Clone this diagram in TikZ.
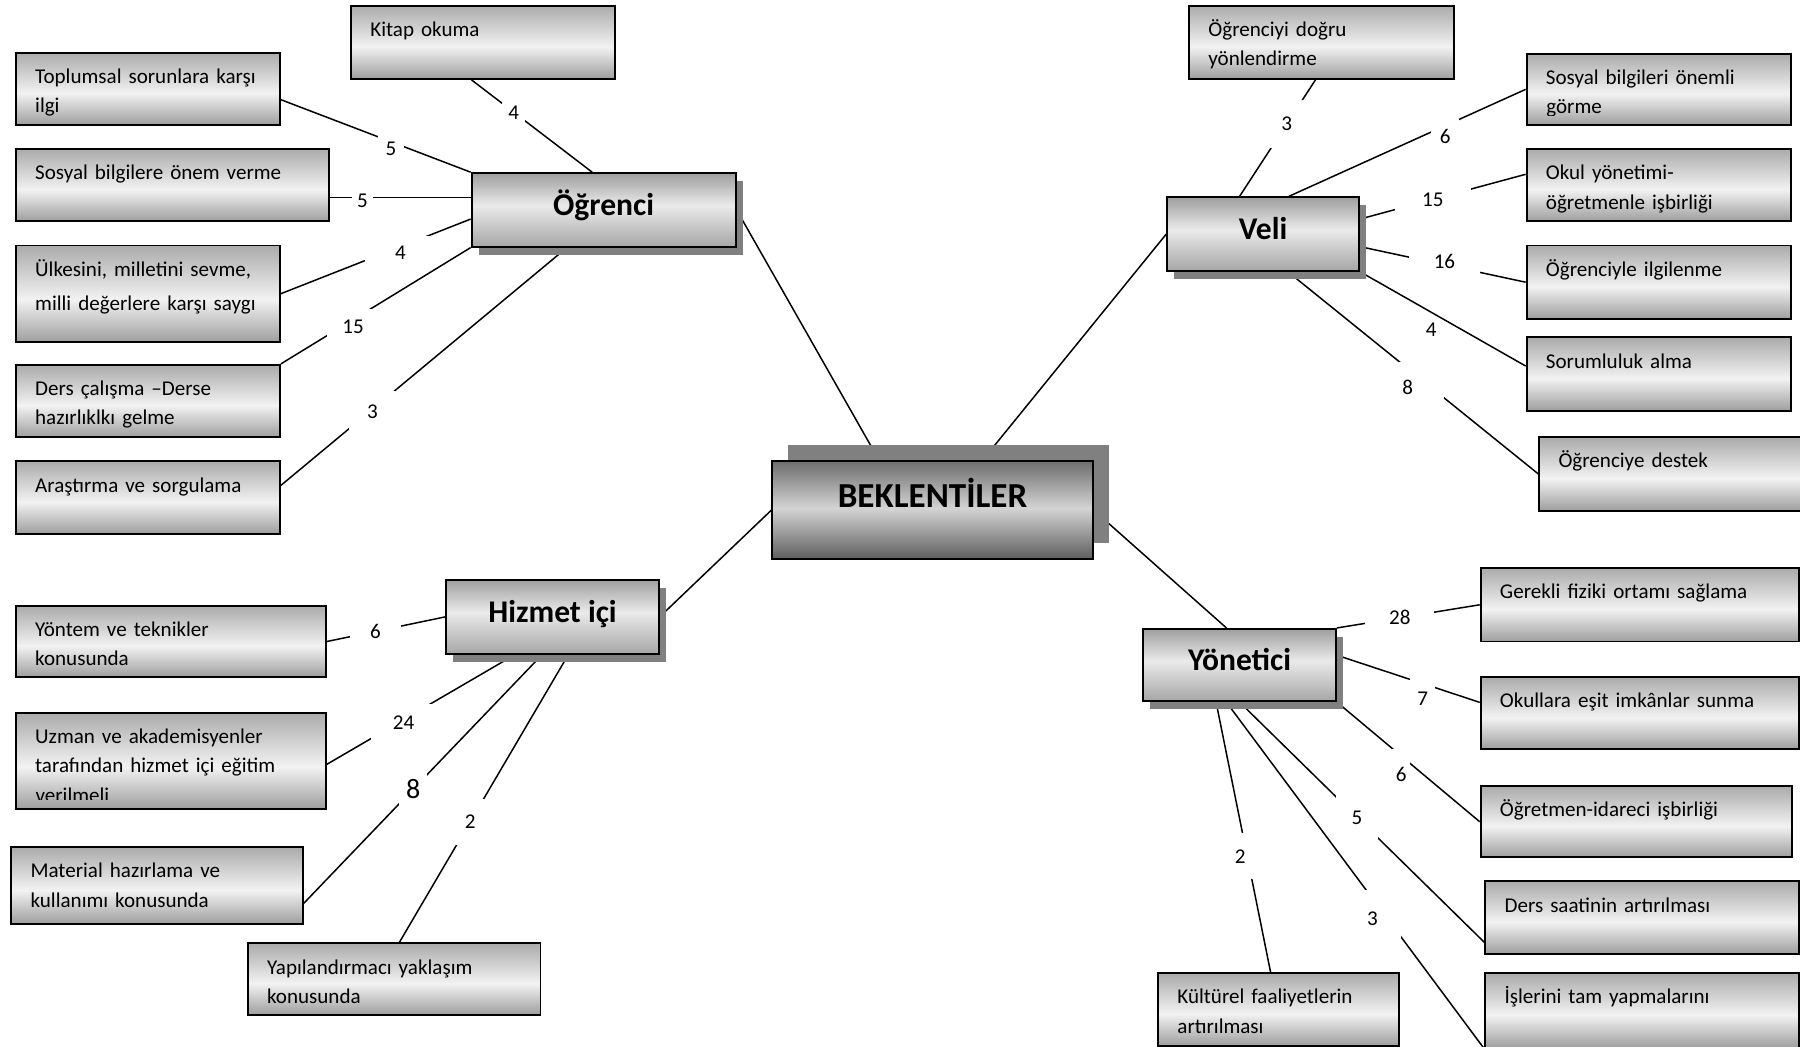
\documentclass[tikz,border=0pt]{standalone}
\usepackage{fontspec}
\setmainfont{Carlito}
\usetikzlibrary{shadows,backgrounds}

\newcommand{\px}{0.023cm}

\pgfdeclareverticalshading{leafshade}{100bp}{color(0bp)=(black!38); color(25bp)=(black!38); color(47bp)=(black!5); color(75bp)=(black!33); color(100bp)=(black!33)}
\pgfdeclareverticalshading{headshade}{100bp}{color(0bp)=(black!35); color(25bp)=(black!35); color(53bp)=(black!8); color(75bp)=(black!38); color(100bp)=(black!38)}
\pgfdeclareverticalshading{centreshade}{100bp}{color(0bp)=(black!63); color(25bp)=(black!63); color(51bp)=(black!17); color(75bp)=(black!57); color(100bp)=(black!57)}

% last line of a box that the box edge cuts off
\newcommand{\cutline}[2]{\tikz[baseline=0pt]{\clip (0pt,#1) rectangle (100pt,14pt); \node[inner sep=0pt, anchor=base west] at (0pt,0pt) {#2};}}

\tikzstyle{leaf} = [rectangle, draw=black, line width=1.1pt, shade, shading=leafshade, anchor=north west, align=left, inner xsep=11pt, inner ysep=0pt, text height=17.5pt, font=\fontsize{12}{16.7}\selectfont]
\tikzstyle{head} = [rectangle, draw=black, line width=1.1pt, shade, shading=headshade, anchor=north west, inner sep=0pt, text height=13pt, text depth=7pt, font=\fontsize{18}{22}\selectfont\bfseries, drop shadow={shadow xshift=0.14cm, shadow yshift=-0.16cm, fill=black!50, opacity=1}]
\tikzstyle{centre} = [rectangle, draw=black, line width=1.1pt, shade, shading=centreshade, anchor=north west, inner sep=0pt, text height=15pt, text depth=18pt, font=\fontsize{20}{24}\selectfont\bfseries, drop shadow={shadow xshift=0.32cm, shadow yshift=0.32cm, fill=black!50, opacity=1}]
\tikzstyle{con} = [line width=0.85pt]
\tikzstyle{num} = [fill=white, inner sep=0pt, font=\fontsize{12}{14}\selectfont]

\tikzset{
  leafsize/.style 2 args={text width=#1*\px-22pt, text depth=#2*\px-17.5pt},
  headsize/.style 2 args={minimum width=#1*\px, minimum height=#2*\px},
  gapsize/.style 2 args={minimum width=#1*\px, minimum height=#2*\px}
}

\begin{document}
\begin{tikzpicture}[x=\px, y=-\px]
\useasboundingbox (0,0) rectangle (1568,912);

\node[centre, headsize={279}{85}] (centre) at (672,401) {BEKLENTİLER};

% Öğrenci
\node[head, headsize={230}{64}] (ogrenci) at (410,150) {Öğrenci};
\node[leaf, leafsize={230}{64}] (kitap) at (305,4) {Kitap okuma};
\node[leaf, leafsize={230}{63}] (toplumsal) at (13,45) {Toplumsal sorunlara karşı\\ilgi};
\node[leaf, leafsize={273}{63}] (sosyal) at (13,129) {Sosyal bilgilere önem verme};
\node[leaf, leafsize={230}{84}] (ulkesini) at (13,213) {Ülkesini, milletini sevme,\\[3pt]milli değerlere karşı saygı};
\node[leaf, leafsize={230}{63}] (ders) at (13,317) {Ders çalışma –Derse\\hazırlıklkı gelme};
\node[leaf, leafsize={230}{63}] (arastirma) at (13,401) {Araştırma ve sorgulama};

% Veli
\node[head, headsize={167}{64}] (veli) at (1016,171) {Veli};
\node[leaf, leafsize={231}{64}] (ogrenciyi) at (1035,4) {Öğrenciyi doğru\\yönlendirme};
\node[leaf, leafsize={230}{62}] (sosyalonemli) at (1329,46) {Sosyal bilgileri önemli\\\cutline{-1pt}{görme}};
\node[leaf, leafsize={230}{63}] (okul) at (1329,129) {Okul yönetimi-\\öğretmenle işbirliği};
\node[leaf, leafsize={230}{64}] (ogrenciyle) at (1329,213) {Öğrenciyle ilgilenme};
\node[leaf, leafsize={230}{64}] (sorumluluk) at (1329,293) {Sorumluluk alma};
\node[leaf, leafsize={228}{64}] (destek) at (1340,380) {Öğrenciye destek};

% Hizmet içi
\node[head, headsize={185}{65}] (hizmet) at (388,504) {Hizmet içi};
\node[leaf, leafsize={270}{62}] (yontem) at (13,527) {Yöntem ve teknikler\\konusunda};
\node[leaf, leafsize={270}{84}] (uzman) at (13,620) {Uzman ve akademisyenler\\tarafından hizmet içi eğitim\\\cutline{1.5pt}{verilmeli}};
\node[leaf, leafsize={254}{67}] (material) at (9,737) {Material hazırlama ve\\kullanımı konusunda};
\node[leaf, leafsize={255}{62}] (yapilandirmaci) at (215,821) {Yapılandırmacı yaklaşım\\konusunda};

% Yönetici
\node[head, headsize={168}{63}] (yonetici) at (995,547) {Yönetici};
\node[leaf, leafsize={277}{64}] (gerekli) at (1289,494) {Gerekli fiziki ortamı sağlama};
\node[leaf, leafsize={277}{63}] (okullara) at (1289,589) {Okullara eşit imkânlar sunma};
\node[leaf, leafsize={271}{62}] (ogretmen) at (1289,684) {Öğretmen-idareci işbirliği};
\node[leaf, leafsize={273}{63}] (derssaati) at (1293,767) {Ders saatinin artırılması};
\node[leaf, leafsize={273}{65}] (islerini) at (1293,847) {İşlerini tam yapmalarını};
\node[leaf, leafsize={210}{63}] (kulturel) at (1008,847) {Kültürel faaliyetlerin\\artırılması};

\begin{scope}[on background layer]
\draw[con] ([xshift=-10*\px]kitap.south) -- ([xshift=-10*\px]ogrenci.north)
  node[num, gapsize={20}{24}, pos=0.35] (lkitap) {4};
\draw[con] ([yshift=-9.5*\px]toplumsal.east) -- (ogrenci.north west)
  node[num, gapsize={22}{24}, pos=0.58, yshift=-6*\px] (ltoplumsal) {5};
\draw[con] ([yshift=-10.5*\px]sosyal.east) -- ([yshift=11*\px]ogrenci.west)
  node[num, gapsize={19}{22}, pos=0.23, yshift=-3*\px] (lsosyal) {5};
\draw[con] (ulkesini.east) -- ([yshift=-8*\px]ogrenci.west)
  node[num, gapsize={62}{28}, pos=0.63, yshift=-5*\px] (lulkesini) {4};
\draw[con] (ders.north east) -- (ogrenci.south west)
  node[num, gapsize={46}{30}, pos=0.38, yshift=-6*\px] (lders) {15};
\draw[con] ([yshift=10.5*\px]arastirma.east) -- ([xshift=-32*\px]ogrenci.south)
  node[num, gapsize={40}{36}, pos=0.32, yshift=-2*\px] (larastirma) {3};
\draw[con] (ogrenci.east) -- ([xshift=-46.5*\px]centre.north);

\draw[con] ([xshift=-5.5*\px]ogrenciyi.south) -- ([xshift=-20.5*\px]veli.north)
  node[num, gapsize={30}{42}, pos=0.38] (logrenciyi) {3};
\draw[con] (sosyalonemli.west) -- ([xshift=22.5*\px]veli.north)
  node[num, gapsize={24}{30}, pos=0.34, yshift=-9*\px] (lsosyalonemli) {6};
\draw[con] ([yshift=9.5*\px]okul.west) -- ([yshift=13*\px]veli.east)
  node[num, gapsize={66}{26}, pos=0.56] (lokul) {15};
\draw[con] (ogrenciyle.west) -- ([yshift=-11*\px]veli.east)
  node[num, gapsize={62}{26}, pos=0.49, yshift=3*\px] (logrenciyle) {16};
\draw[con] ([yshift=7*\px]sorumluluk.west) -- (veli.south east)
  node[num, fill=none, pos=0.57, yshift=-15.5*\px] (lsorumluluk) {4};
\draw[con] (destek.west) -- ([xshift=21.5*\px]veli.south)
  node[num, gapsize={64}{44}, pos=0.43, xshift=-20*\px] (ldestek) {8};
\draw[con] (veli.west) -- ([xshift=43.5*\px]centre.north);

\draw[con] (yontem.east) -- (hizmet.west)
  node[num, gapsize={44}{22}, pos=0.41] (lyontem) {6};
\draw[con] ([yshift=-3*\px]uzman.east) -- ([xshift=-33.5*\px]hizmet.south)
  node[num, gapsize={56}{34}, pos=0.41, yshift=-3*\px] (luzman) {24};
\draw[con] ([yshift=-15.5*\px]material.east) -- ([xshift=-9.5*\px]hizmet.south)
  node[num, gapsize={24}{30}, pos=0.46, font=\fontsize{16}{18}\selectfont] (lmaterial) {8};
\draw[con] ([xshift=4.5*\px]yapilandirmaci.north) -- ([xshift=13.5*\px]hizmet.south)
  node[num, gapsize={34}{40}, pos=0.42] (lyapilandirmaci) {2};
\draw[con] (hizmet.east) -- (centre.west);

\draw[con] (gerekli.west) -- (yonetici.north east)
  node[num, gapsize={60}{24}, pos=0.56] (lgerekli) {28};
\draw[con] ([yshift=9.5*\px]okullara.west) -- ([yshift=8.5*\px]yonetici.east)
  node[num, gapsize={22}{40}, pos=0.4, yshift=-13*\px] (lokullara) {7};
\draw[con] (ogretmen.west) -- (yonetici.south east)
  node[num, gapsize={16}{44}, pos=0.55, yshift=-16*\px] (logretmen) {6};
\draw[con] ([yshift=-21.5*\px]derssaati.west) -- (yonetici.south)
  node[num, gapsize={36}{44}, pos=0.52] (lderssaati) {5};
\draw[con] (islerini.south west) -- ([xshift=-11.5*\px]yonetici.south)
  node[num, gapsize={50}{50}, pos=0.376, xshift=-13*\px] (lislerini) {3};
\draw[con] ([xshift=-7*\px]kulturel.north) -- ([xshift=-20.5*\px]yonetici.south)
  node[num, gapsize={26}{40}, pos=0.43, xshift=-6*\px] (lkulturel) {2};
\draw[con] (centre.east) -- ([xshift=-11.5*\px]yonetici.north);
\end{scope}

\end{tikzpicture}
\end{document}
